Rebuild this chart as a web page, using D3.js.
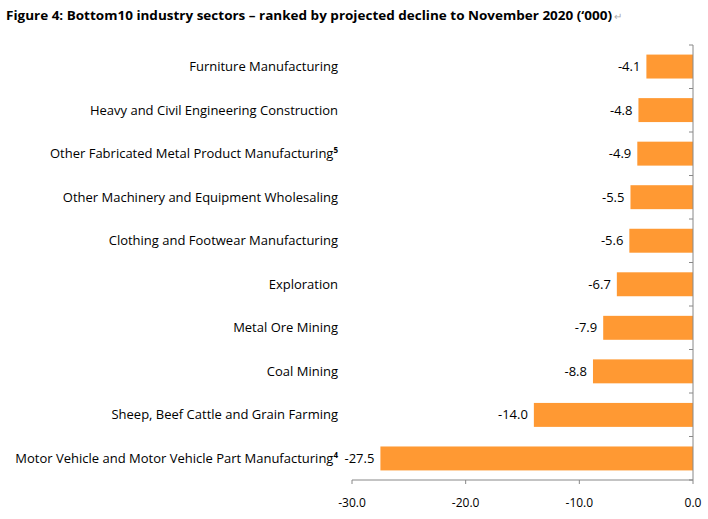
<!DOCTYPE html>
<html>
<head>
<meta charset="utf-8">
<script src="https://cdn.jsdelivr.net/npm/d3@7"></script>
<style>
  body { margin: 0; background: #fff; }
  text { font-family: "Open Sans", sans-serif; fill: #000; }
</style>
</head>
<body>
<div id="chart"></div>
<script>
var sectors = ["Furniture Manufacturing", "Heavy and Civil Engineering Construction",
  "Other Fabricated Metal Product Manufacturing", "Other Machinery and Equipment Wholesaling",
  "Clothing and Footwear Manufacturing", "Exploration", "Metal Ore Mining", "Coal Mining",
  "Sheep, Beef Cattle and Grain Farming", "Motor Vehicle and Motor Vehicle Part Manufacturing"];
var notes = ["", "", "5", "", "", "", "", "", "", "4"];
var values = [-4.1, -4.8, -4.9, -5.5, -5.6, -6.7, -7.9, -8.8, -14.0, -27.5];
var xTicks = [-30, -20, -10, 0];

var svg = d3.select("#chart").append("svg").attr("width", 708).attr("height", 519);

svg.append("text").attr("x", 6).attr("y", 20)
  .attr("font-size", 13).attr("font-weight", "bold")
  .attr("textLength", 606).attr("lengthAdjust", "spacingAndGlyphs")
  .text("Figure 4: Bottom10 industry sectors \u2013 ranked by projected decline to November 2020 (\u2018000)");
svg.append("text").attr("x", 614).attr("y", 20).attr("font-size", 10).style("fill", "#aaa").text("\u21b5");

var x = d3.scaleLinear().domain([-30, 0]).range([352, 693]);
var y = d3.scaleBand().domain(sectors).range([45, 480]).paddingInner(0.45).paddingOuter(0.22);

svg.selectAll("rect.bar").data(values).enter().append("rect")
  .attr("x", d => x(d)).attr("width", d => x(0) - x(d))
  .attr("y", (d, i) => y(sectors[i])).attr("height", y.bandwidth())
  .attr("fill", "#ff9933");

svg.selectAll("text.val").data(values).enter().append("text")
  .attr("x", d => x(d) - 6).attr("y", (d, i) => y(sectors[i]) + y.bandwidth() / 2 + 4.5)
  .attr("text-anchor", "end").attr("font-size", 13)
  .text(d => d.toFixed(1));

var lab = svg.selectAll("text.lab").data(sectors).enter().append("text")
  .attr("x", 338).attr("y", d => y(d) + y.bandwidth() / 2 + 4.5)
  .attr("text-anchor", "end").attr("font-size", 13);
lab.append("tspan").text(d => d);
lab.append("tspan").attr("font-size", 8).attr("font-weight", "bold").attr("dy", -5).text((d, i) => notes[i]);

// axes
var grey = "#888";
svg.append("line").attr("x1", 352).attr("x2", 693).attr("y1", 480).attr("y2", 480).attr("stroke", grey);
svg.append("line").attr("x1", 693).attr("x2", 693).attr("y1", 45).attr("y2", 480).attr("stroke", grey);
svg.selectAll("line.xt").data(xTicks).enter().append("line")
  .attr("x1", d => x(d)).attr("x2", d => x(d)).attr("y1", 480).attr("y2", 484).attr("stroke", grey);
var step = 435 / sectors.length;
svg.selectAll("line.yt").data(d3.range(sectors.length + 1)).enter().append("line")
  .attr("x1", 689).attr("x2", 693).attr("y1", d => 45 + d * step).attr("y2", d => 45 + d * step).attr("stroke", grey);
svg.selectAll("text.xl").data(xTicks).enter().append("text")
  .attr("x", d => x(d)).attr("y", 507).attr("text-anchor", "middle").attr("font-size", 12)
  .text(d => d.toFixed(1));
</script>
</body>
</html>
